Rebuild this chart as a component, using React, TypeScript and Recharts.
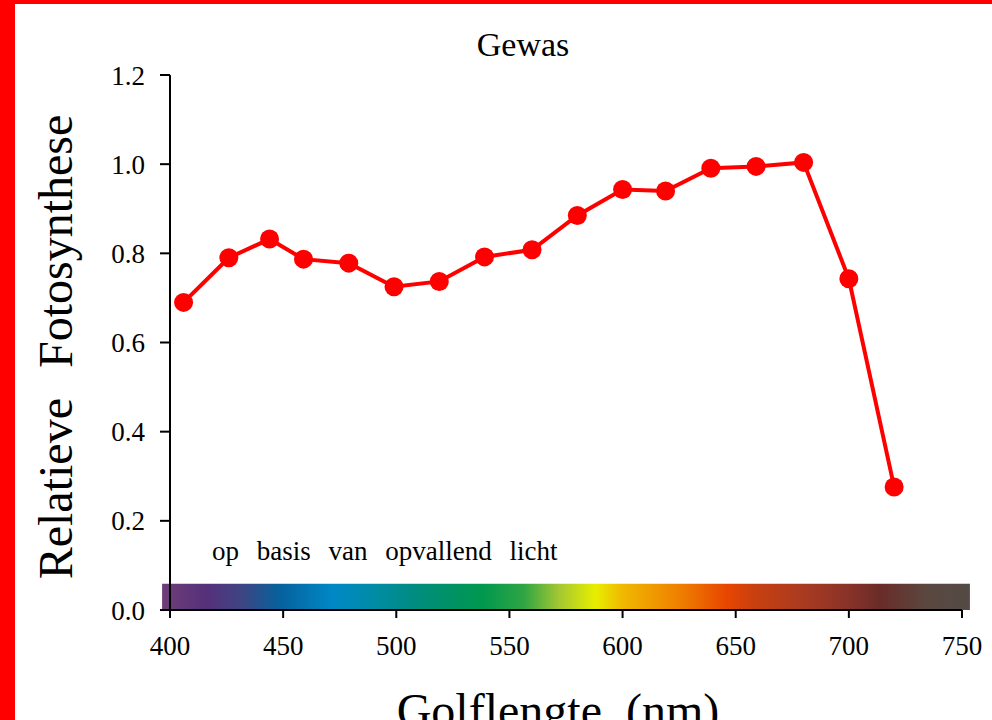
import { Line, LineChart, ReferenceArea, XAxis, YAxis } from "recharts";

// golflengte (nm) van elke meting
const wavelengths = [406, 426, 444, 459, 479, 499, 519, 539, 560, 580, 600, 619, 639, 659, 680, 700, 720];
const photosynthesis = [
  0.69, 0.79, 0.832, 0.787, 0.778, 0.725, 0.737, 0.792, 0.808, 0.885, 0.943, 0.94, 0.991, 0.995, 1.004,
  0.743, 0.276,
];
const xTicks = [400, 450, 500, 550, 600, 650, 700, 750];
const yTicks = [0, 0.2, 0.4, 0.6, 0.8, 1.0, 1.2];

// spectrum strip under the curve
const SPECTRUM_START = 396.5;
const SPECTRUM_END = 753.5;
const SPECTRUM_TOP = 0.059;
const spectrumStops: [number, string][] = [
  [396.5, "#6e3f78"],
  [416, "#56307a"],
  [432, "#3d4582"],
  [448, "#06609c"],
  [472, "#0088c6"],
  [490, "#008ca6"],
  [510, "#008c7c"],
  [538, "#00984e"],
  [556, "#2ea444"],
  [572, "#a4c832"],
  [588, "#e8ee00"],
  [600, "#f0b800"],
  [625, "#ef8000"],
  [646, "#e84600"],
  [658, "#c84010"],
  [682, "#a63a22"],
  [700, "#883228"],
  [714, "#6a2c28"],
  [735, "#5a4840"],
  [753.5, "#544a46"],
];

const FONT = "'Liberation Serif', 'Times New Roman', serif";
const RED = "#ff0000";

const data = wavelengths.map((w, i) => ({ w, v: photosynthesis[i] }));

export default function App() {
  const tick = { fill: "#000", fontSize: 27, fontFamily: FONT };
  return (
    <div style={{ position: "absolute", left: 0, top: 0, width: 992, height: 720, background: "#fff", overflow: "hidden" }}>
      <LineChart width={992} height={720} data={data} margin={{ top: 75, right: 30, left: 0, bottom: 0 }}>
        <defs>
          <linearGradient id="spectrum" x1="0" y1="0" x2="1" y2="0">
            {spectrumStops.map(([wl, c]) => (
              <stop
                key={wl}
                offset={(wl - SPECTRUM_START) / (SPECTRUM_END - SPECTRUM_START)}
                stopColor={c}
              />
            ))}
          </linearGradient>
        </defs>
        <XAxis
          dataKey="w"
          type="number"
          domain={[400, 750]}
          ticks={xTicks}
          tick={tick}
          tickSize={8}
          tickMargin={18}
          height={110}
          axisLine={{ stroke: "#000", strokeWidth: 2 }}
          tickLine={{ stroke: "#000", strokeWidth: 2 }}
        />
        <XAxis
          xAxisId="top"
          orientation="top"
          type="number"
          domain={[400, 750]}
          height={0}
          tick={false}
          tickLine={false}
          axisLine={{ stroke: "#000", strokeWidth: 2 }}
        />
        <YAxis
          type="number"
          domain={[0, 1.2]}
          ticks={yTicks}
          tickFormatter={(v: number) => v.toFixed(1)}
          tick={tick}
          tickSize={10}
          tickMargin={15}
          width={170}
          axisLine={{ stroke: "#000", strokeWidth: 2 }}
          tickLine={{ stroke: "#000", strokeWidth: 2 }}
        />
        <YAxis
          yAxisId="right"
          orientation="right"
          domain={[0, 1.2]}
          width={0}
          tick={false}
          tickLine={false}
          axisLine={{ stroke: "#000", strokeWidth: 2 }}
        />
        <ReferenceArea
          x1={SPECTRUM_START}
          x2={SPECTRUM_END}
          y1={0}
          y2={SPECTRUM_TOP}
          ifOverflow="visible"
          fill="url(#spectrum)"
          fillOpacity={1}
          stroke="none"
        />
        <Line
          dataKey="v"
          stroke={RED}
          strokeWidth={4}
          dot={{ r: 9.5, fill: RED, stroke: "none" }}
          activeDot={false}
          isAnimationActive={false}
        />
      </LineChart>

      <svg
        width={992}
        height={720}
        style={{ position: "absolute", left: 0, top: 0, pointerEvents: "none" }}
        fontFamily={FONT}
      >
        <text x={523} y={56} textAnchor="middle" fontSize={34} fill="#000">
          Gewas
        </text>
        <text x={212} y={560} fontSize={27} wordSpacing={11} fill="#000">
          op basis van opvallend licht
        </text>
        <text
          x={72}
          y={347}
          textAnchor="middle"
          fontSize={48}
          wordSpacing={18}
          fill="#000"
          transform="rotate(-90, 72, 347)"
        >
          Relatieve Fotosynthese
        </text>
        <text x={558} y={727} textAnchor="middle" fontSize={48} wordSpacing={12} fill="#000">
          Golflengte (nm)
        </text>
      </svg>

      <div style={{ position: "absolute", left: 0, top: 0, width: 15, height: 720, background: RED }} />
      <div style={{ position: "absolute", left: 0, top: 0, width: 992, height: 4, background: RED }} />
    </div>
  );
}
